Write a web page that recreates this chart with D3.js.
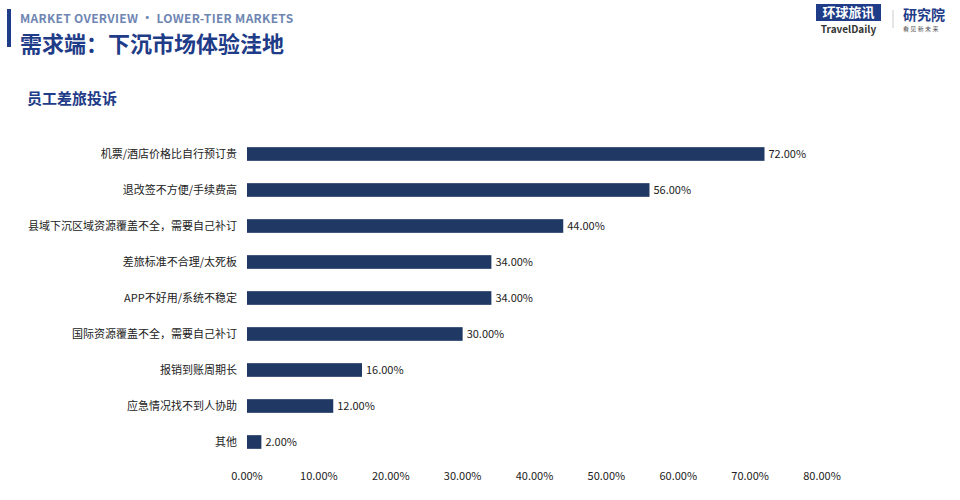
<!DOCTYPE html>
<meta charset="utf-8">
<style>
body { margin: 0; background: #fff; }
text { font-family: "Noto Sans CJK SC", "Noto Sans", sans-serif; }
</style>
<body>
<div id="box1"></div>
</body>
<script src="https://d3js.org/d3.v7.min.js"></script>
<script>
var categories = ["机票/酒店价格比自行预订贵", "退改签不方便/手续费高", "县域下沉区域资源覆盖不全，需要自己补订",
  "差旅标准不合理/太死板", "APP不好用/系统不稳定", "国际资源覆盖不全，需要自己补订",
  "报销到账周期长", "应急情况找不到人协助", "其他"];
var values = [72, 56, 44, 34, 34, 30, 16, 12, 2];
var ticks = [0, 10, 20, 30, 40, 50, 60, 70, 80];

var width = 960, height = 500;
var navy = "#1f3864";

var svg = d3.select('#box1').append("svg")
  .attr("width", width).attr("height", height);

// header
svg.append("rect").attr("x", 7).attr("y", 9).attr("width", 4).attr("height", 38).attr("fill", "#1f3c88");
svg.append("text").attr("x", 20).attr("y", 23).text("MARKET OVERVIEW • LOWER-TIER MARKETS")
  .style("font-size", "12px").style("font-weight", "bold").style("fill", "#6f86b3").style("letter-spacing", "0.3px");
svg.append("text").attr("x", 20).attr("y", 52).text("需求端：下沉市场体验洼地")
  .style("font-size", "22px").style("font-weight", "bold").style("fill", "#1f3c88");
svg.append("text").attr("x", 27).attr("y", 104).text("员工差旅投诉")
  .style("font-size", "15px").style("font-weight", "bold").style("fill", "#1f3c88");

// logo
svg.append("rect").attr("x", 816).attr("y", 4).attr("width", 65).attr("height", 17).attr("fill", "#1f3c88");
svg.append("text").attr("x", 848.5).attr("y", 17).attr("text-anchor", "middle").text("环球旅讯")
  .style("font-size", "13px").style("font-weight", "bold").style("fill", "#fff");
svg.append("text").attr("x", 848.5).attr("y", 33).attr("text-anchor", "middle").text("TravelDaily")
  .style("font-size", "10px").style("font-weight", "bold").style("fill", "#333");
svg.append("line").attr("x1", 893).attr("x2", 893).attr("y1", 10).attr("y2", 28).attr("stroke", "#ccc");
svg.append("text").attr("x", 903).attr("y", 20).text("研究院")
  .style("font-size", "14px").style("font-weight", "bold").style("fill", "#1f3c88");
svg.append("text").attr("x", 903).attr("y", 31).text("看 见 新 未 来")
  .style("font-size", "6px").style("fill", "#555");

var x = d3.scaleLinear().domain([0, 80]).range([247, 822]);
var y = d3.scaleBand().domain(categories).range([136, 460]).paddingInner(0.62).paddingOuter(0.31);

svg.append("g").selectAll("rect").data(categories).join("rect")
  .attr("x", x(0)).attr("y", d => y(d))
  .attr("width", (d, i) => x(values[i]) - x(0)).attr("height", y.bandwidth())
  .attr("fill", navy);

svg.append("g").selectAll("text").data(categories).join("text")
  .attr("x", x(0) - 10).attr("y", d => y(d) + y.bandwidth() / 2).attr("dy", "0.35em")
  .attr("text-anchor", "end").text(d => d)
  .style("font-size", "11px").style("fill", "#222");

svg.append("g").selectAll("text").data(categories).join("text")
  .attr("x", (d, i) => x(values[i]) + 4).attr("y", d => y(d) + y.bandwidth() / 2).attr("dy", "0.35em")
  .text((d, i) => values[i].toFixed(2) + "%")
  .style("font-size", "11px").style("fill", "#222");

svg.append("g").selectAll("text").data(ticks).join("text")
  .attr("x", d => x(d)).attr("y", 480).attr("text-anchor", "middle")
  .text(d => d.toFixed(2) + "%")
  .style("font-size", "11px").style("fill", "#222");
</script>
